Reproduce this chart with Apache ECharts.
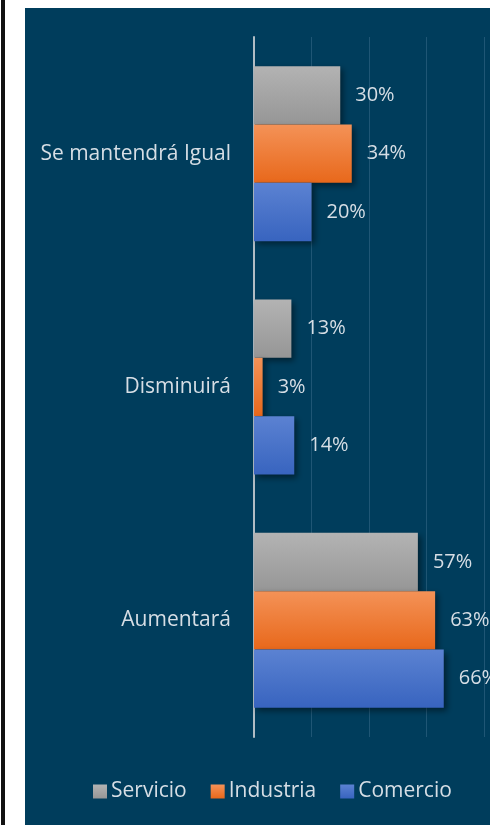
<!DOCTYPE html>
<html>
<head>
<meta charset="utf-8">
<script src="https://cdn.jsdelivr.net/npm/echarts@6/dist/echarts.min.js"></script>
<style>
  html, body { margin: 0; padding: 0; background: #fff; }
  body { width: 490px; height: 825px; position: relative; overflow: hidden; }
  #edge { position: absolute; left: 1px; top: 0; width: 4px; height: 825px; background: #111; }
  #chart { position: absolute; left: 25px; top: 8px; width: 465px; height: 817px; }
</style>
</head>
<body>
<div id="edge"></div>
<div id="chart"></div>
<script>
// categorías (de abajo hacia arriba en el eje)
const categories = ['Aumentará', 'Disminuirá', 'Se mantendrá Igual']
const servicio = [57, 13, 30]
const industria = [63, 3, 34]
const comercio = [66, 14, 20]
const xTicks = [0, 20, 40, 60, 80]

const textColor = '#d6dee5'
const fontFamily = 'Open Sans'

const grad = (top, bottom) => new echarts.graphic.LinearGradient(0, 0, 0, 1, [
  { offset: 0, color: top },
  { offset: 1, color: bottom }
])

const labelStyle = {
  show: true,
  position: 'right',
  distance: 15,
  color: textColor,
  fontSize: 20,
  fontFamily,
  formatter: p => p.value + '%'
}

const makeSeries = (name, data, colors) => ({
  name,
  type: 'bar',
  data,
  barGap: '0%',
  barCategoryGap: '25%',
  label: labelStyle,
  itemStyle: {
    color: grad(colors[0], colors[1]),
    shadowColor: 'rgba(0, 0, 0, 0.45)',
    shadowBlur: 6,
    shadowOffsetX: 3,
    shadowOffsetY: 3
  }
})

const chart = echarts.init(document.getElementById('chart'))
chart.setOption({
  backgroundColor: '#003d5c',
  animation: false,
  grid: { left: 229, right: 6, top: 29, bottom: 88 },
  legend: {
    data: ['Servicio', 'Industria', 'Comercio'],
    top: 768,
    left: 63,
    itemWidth: 14,
    itemHeight: 14,
    itemGap: 24,
    icon: 'rect',
    textStyle: { color: textColor, fontSize: 21, fontFamily, padding: [0, 0, 0, -1] }
  },
  xAxis: {
    type: 'value',
    min: xTicks[0],
    max: xTicks[xTicks.length - 1],
    interval: 20,
    axisLabel: { show: false },
    axisLine: { show: false },
    axisTick: { show: false },
    splitLine: { lineStyle: { color: '#1f5675', width: 1 } }
  },
  yAxis: {
    type: 'category',
    data: categories,
    axisLine: { lineStyle: { color: '#b0bcc4', width: 2 } },
    axisTick: { show: false },
    axisLabel: { color: textColor, fontSize: 21, fontFamily, margin: 23 }
  },
  series: [
    makeSeries('Servicio', servicio, ['#b3b3b3', '#969696']),
    makeSeries('Industria', industria, ['#f49257', '#e8681b']),
    makeSeries('Comercio', comercio, ['#5b82d2', '#3864bf'])
  ]
})
</script>
</body>
</html>
